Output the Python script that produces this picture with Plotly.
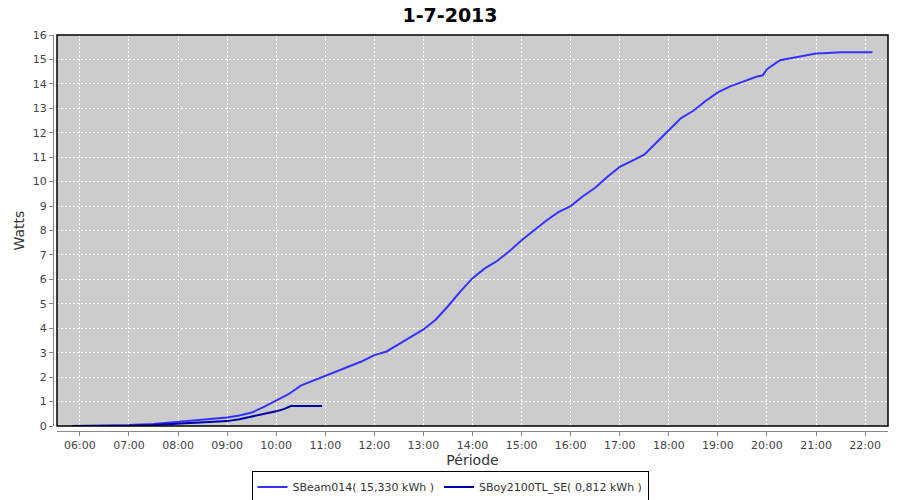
import plotly.graph_objects as go

# SBeam014 cumulative energy (time, value)
beam_times = ["05:50", "06:30", "07:00", "07:30", "08:00", "08:30", "09:00", "09:15", "09:30", "09:45",
              "10:00", "10:15", "10:30", "10:45", "11:00", "11:15", "11:30", "11:45", "12:00", "12:15",
              "12:30", "12:45", "13:00", "13:15", "13:30", "13:45", "14:00", "14:15", "14:30", "14:45",
              "15:00", "15:15", "15:30", "15:45", "16:00", "16:15", "16:30", "16:45", "17:00", "17:15",
              "17:30", "17:45", "18:00", "18:15", "18:30", "18:45", "19:00", "19:15", "19:30", "19:47",
              "19:55", "20:00", "20:16", "20:30", "20:40", "21:00", "21:15", "21:30", "22:00", "22:09"]
beam_values = [0.0, 0.01, 0.04, 0.08, 0.16, 0.25, 0.35, 0.43, 0.55, 0.78,
               1.04, 1.3, 1.65, 1.85, 2.05, 2.25, 2.45, 2.65, 2.9, 3.05,
               3.35, 3.65, 3.95, 4.35, 4.9, 5.5, 6.05, 6.45, 6.75, 7.15,
               7.6, 8.0, 8.4, 8.75, 9.0, 9.4, 9.75, 10.2, 10.6, 10.85,
               11.1, 11.6, 12.1, 12.6, 12.9, 13.3, 13.65, 13.9, 14.08, 14.29,
               14.35, 14.6, 14.97, 15.05, 15.13, 15.24, 15.26, 15.29, 15.29, 15.29]

# SBoy2100TL_SE cumulative energy
boy_times = ["05:50", "06:30", "07:00", "07:30", "08:00", "08:30", "09:00", "09:15", "09:30", "09:45",
             "10:00", "10:10", "10:18", "10:56"]
boy_values = [0.0, 0.0, 0.01, 0.04, 0.1, 0.14, 0.2, 0.28, 0.38, 0.48,
              0.6, 0.7, 0.82, 0.82]

day = "2013-07-01 "
title_text = "1-7-2013"
beam_name = "SBeam014( 15,330 kWh )"
boy_name = "SBoy2100TL_SE( 0,812 kWh )"

fig = go.Figure()
fig.add_trace(go.Scatter(x=[day + t for t in beam_times], y=beam_values, mode="lines",
                         name=beam_name, line=dict(color="#3333ff", width=2)))
fig.add_trace(go.Scatter(x=[day + t for t in boy_times], y=boy_values, mode="lines",
                         name=boy_name, line=dict(color="#0000a8", width=2)))

font = "DejaVu Sans"
fig.update_layout(
    width=900, height=500,
    margin=dict(l=53, r=12, t=35, b=69, autoexpand=False),
    paper_bgcolor="white", plot_bgcolor="#cccccc",
    title=dict(text="<b>" + title_text + "</b>", x=0.5, xanchor="center", y=0.97, yanchor="middle",
               xref="container", yref="container", font=dict(family=font, size=19, color="black")),
    font=dict(family=font, size=11, color="#444444"),
    showlegend=True,
    legend=dict(orientation="h", xref="paper", yref="paper", x=0.4755, xanchor="center",
                y=-0.1414, yanchor="middle", bordercolor="black", borderwidth=1,
                font=dict(family=font, size=11, color="#333333"), itemwidth=30,
                tracegroupgap=0),
    xaxis=dict(
        type="date", domain=[0.0048, 1], anchor="free", position=0,
        range=[day + "05:32", day + "22:28"],
        tick0=day + "06:00", dtick=3600000, tickformat="%H:%M",
        showgrid=True, gridcolor="white", griddash="2px,2px", gridwidth=1,
        showline=True, linecolor="#888888", linewidth=1,
        ticks="outside", ticklen=4, tickcolor="#888888",
        zeroline=False,
        title=dict(text="Période", font=dict(family=font, size=14, color="#333333"), standoff=3),
    ),
    yaxis=dict(
        domain=[0.0126, 1], anchor="free", position=0,
        range=[0, 16], dtick=1, tick0=0,
        showgrid=True, gridcolor="white", griddash="2px,2px", gridwidth=1,
        showline=True, linecolor="#888888", linewidth=1,
        ticks="outside", ticklen=4, tickcolor="#888888",
        zeroline=False,
        title=dict(text="Watts", font=dict(family=font, size=14, color="#333333"), standoff=3),
    ),
)
fig.add_shape(type="rect", xref="x domain", yref="y domain", x0=0, x1=1, y0=0, y1=1,
              line=dict(color="black", width=1.5), layer="above")

fig.write_html("out.html", config={"displayModeBar": False},
               post_script="document.body.style.margin='0';")
